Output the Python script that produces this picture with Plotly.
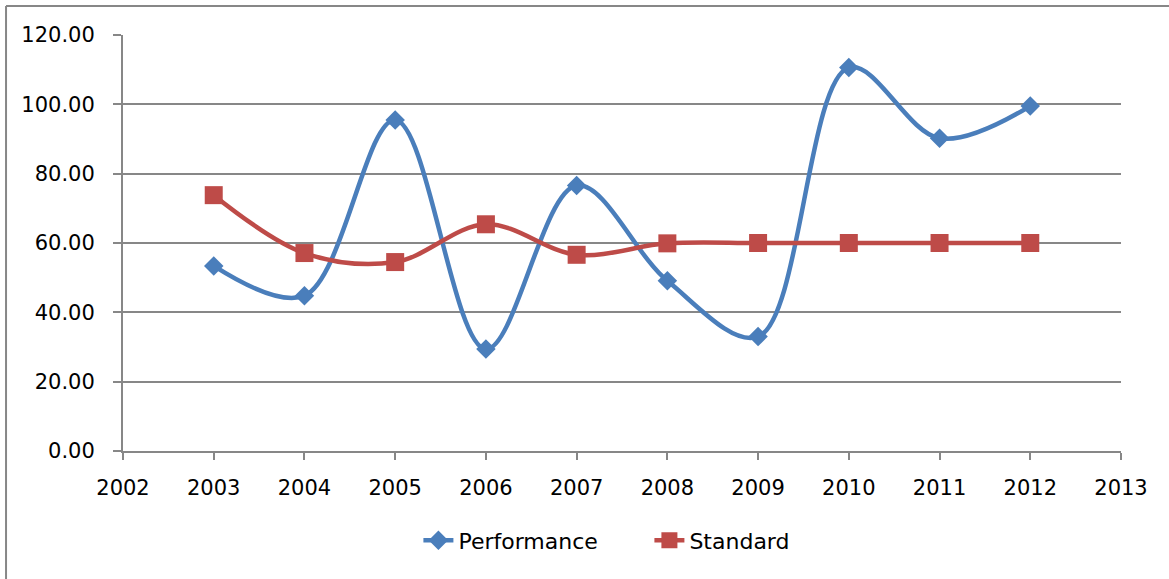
import plotly.graph_objects as go

years = [2003, 2004, 2005, 2006, 2007, 2008, 2009, 2010, 2011, 2012]
performance = [53.4, 44.8, 95.5, 29.4, 76.6, 49.1, 33.0, 110.6, 90.2, 99.5]
standard = [73.8, 57.1, 54.5, 65.4, 56.6, 59.9, 60.0, 60.0, 60.0, 60.0]

BLUE = "#4A7EBB"
RED = "#BE4B48"
GRID = "#878787"
FONT = "DejaVu Sans"

fig = go.Figure()
fig.add_trace(go.Scatter(
    x=years, y=performance, name="Performance", mode="lines+markers",
    line=dict(color=BLUE, width=4.5, shape="spline", smoothing=1.0),
    marker=dict(symbol="diamond", size=15, color=BLUE),
))
fig.add_trace(go.Scatter(
    x=years, y=standard, name="Standard", mode="lines+markers",
    line=dict(color=RED, width=4.5, shape="spline", smoothing=1.0),
    marker=dict(symbol="square", size=18, color=RED),
))

fig.update_layout(
    width=1169, height=579,
    margin=dict(l=123, r=48, t=35, b=128),
    paper_bgcolor="white", plot_bgcolor="white",
    font=dict(family=FONT, size=21, color="black"),
    showlegend=True,
    legend=dict(orientation="h", x=0.296, xanchor="left", y=-0.215, yanchor="middle",
                font=dict(family=FONT, size=22), entrywidth=186,
                entrywidthmode="pixels", tracegroupgap=0),
    xaxis=dict(range=[2002, 2013], dtick=1, tick0=2002, showgrid=False,
               showline=True, linecolor=GRID, linewidth=2,
               ticks="outside", ticklen=7, tickcolor=GRID, tickwidth=2,
               zeroline=False, ticklabelstandoff=10),
    yaxis=dict(range=[0, 120], dtick=20, tickformat=".2f", showgrid=True,
               gridcolor=GRID, gridwidth=1.5, showline=True, linecolor=GRID,
               linewidth=2, ticks="outside", ticklen=8, tickcolor=GRID,
               tickwidth=2, zeroline=False, ticklabelstandoff=14),
)

# Chart border along the top and left edges
fig.add_shape(type="line", xref="paper", yref="paper",
              x0=-0.1172, x1=1.06, y0=1.0697, y1=1.0697,
              line=dict(color=GRID, width=2))
fig.add_shape(type="line", xref="paper", yref="paper",
              x0=-0.1172, x1=-0.1172, y0=1.0697, y1=-0.32,
              line=dict(color=GRID, width=2))

fig.write_html("out.html")
